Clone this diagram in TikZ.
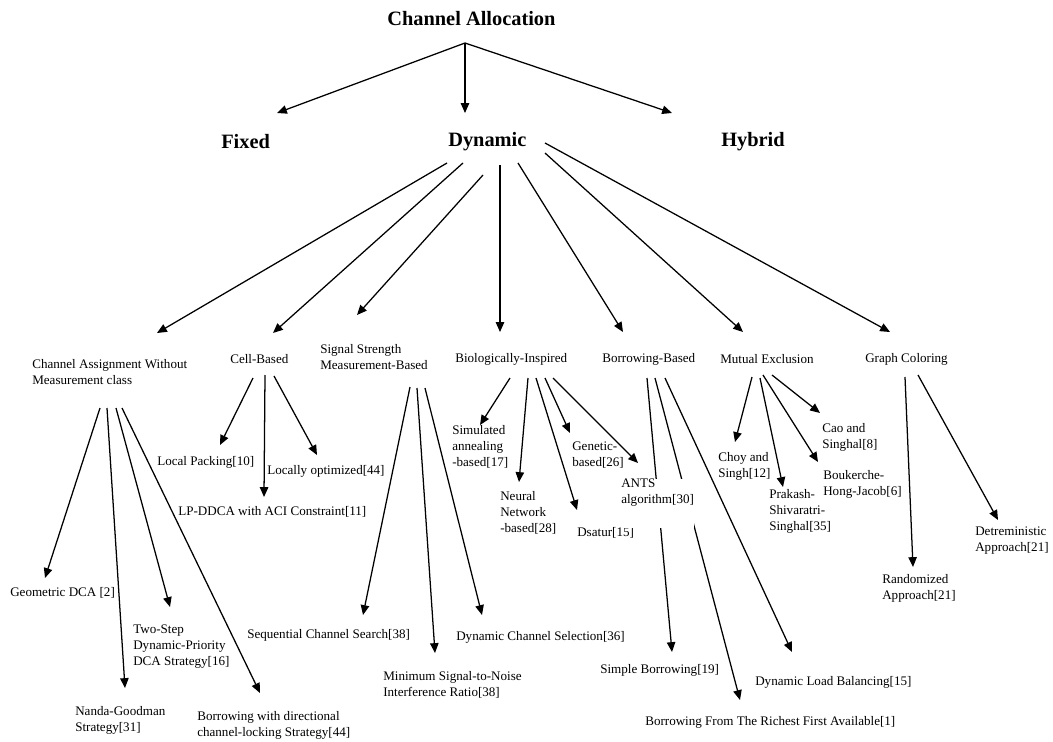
\documentclass[tikz,border=0pt]{standalone}
\usepackage{fontspec}
\setmainfont{Liberation Serif}
\usetikzlibrary{arrows.meta,calc,backgrounds}

\begin{document}
\begin{tikzpicture}[x=0.025cm,y=-0.025cm,
  toplabel/.style={font=\fontsize{14.5}{17}\selectfont\bfseries, inner sep=0pt, anchor=west},
  item/.style={font=\fontsize{9.3}{11.4}\selectfont, inner sep=0pt, align=left, anchor=west},
  link/.style={line width=0.9pt, -{Triangle[length=7pt,width=6pt]}}]
\useasboundingbox (0,0) rectangle (1053,742);
% top
\node[toplabel] (ca) at (387,19) {Channel Allocation};
\node[toplabel] (fixed) at (221,142) {Fixed};
\node[toplabel] (dyn) at (448,142) {Dynamic};
\node[toplabel] (hyb) at (721,142) {Hybrid};
% Dynamic classes
\node[item] (cab) at (32,372) {Channel Assignment Without\\ Measurement class};
\node[item] (cell) at (230,359) {Cell-Based};
\node[item] (sig) at (320,357) {Signal Strength\\Measurement-Based};
\node[item] (bio) at (455,359) {Biologically-Inspired};
\node[item] (borr) at (602,359) {Borrowing-Based};
\node[item] (mut) at (720,359) {Mutual Exclusion};
\node[item] (graph) at (865,359) {Graph Coloring};
% without measurement
\node[item] (geo) at (10,593) {Geometric DCA [2]};
\node[item] (nanda) at (75,720) {Nanda-Goodman\\ Strategy[31]};
\node[item] (twostep) at (133,647) {Two-Step\\Dynamic-Priority\\ DCA Strategy[16]};
\node[item] (borrdir) at (197,725) {Borrowing with directional\\channel-locking Strategy[44]};
% cell-based
\node[item] (lp) at (157,462) {Local Packing[10]};
\node[item] (lpd) at (178,512) {LP-DDCA with ACI Constraint[11]};
\node[item] (lo) at (267,471) {Locally optimized[44]};
% signal strength
\node[item] (seq) at (247,635) {Sequential Channel Search[38]};
\node[item] (minsnr) at (383,685) {Minimum Signal-to-Noise\\ Interference Ratio[38]};
\node[item] (dcs) at (456,637) {Dynamic Channel Selection[36]};
% bio
\node[item] (sa) at (452,447) {Simulated\\ annealing\\-based[17]};
\node[item] (nn) at (500,513) {Neural\\Network\\-based[28]};
\node[item] (dsatur) at (577,533) {Dsatur[15]};
\node[item] (gen) at (572,455) {Genetic-\\based[26]};
\node[item, fill=white, anchor=north west, text depth=0.6cm] (ants) at (621,479) {ANTS\\algorithm[30]};
% borrowing
\node[item] (sb) at (600,670) {Simple Borrowing[19]};
\node[item] (rich) at (645,722) {Borrowing From The Richest First Available[1]};
\node[item] (dlb) at (755,682) {Dynamic Load Balancing[15]};
% mutual exclusion
\node[item] (choy) at (718,466) {Choy and\\Singh[12]};
\node[item] (prak) at (769,511) {Prakash-\\Shivaratri-\\Singhal[35]};
\node[item] (bouk) at (823,484) {Boukerche-\\Hong-Jacob[6]};
\node[item] (cao) at (822,437) {Cao and\\Singhal[8]};
% graph coloring
\node[item] (rand) at (882,588) {Randomized\\Approach[21]};
\node[item] (det) at (975,541) {Detreministic\\Approach[21]};

\begin{scope}[on background layer]
\draw[link] ($(ca.west)+(78,24)$) -- ($(fixed.west)+(56,-29)$);
\draw[link] ($(ca.west)+(78,24)$) -- ($(dyn.west)+(17,-29)$);
\draw[link] ($(ca.west)+(78,24)$) -- ($(hyb.west)+(-49,-29)$);
% Dynamic
\draw[link] ($(dyn.west)+(-1,21)$) -- ($(cab.west)+(125,-39)$);
\draw[link] ($(dyn.west)+(15,21)$) -- ($(cell.west)+(43,-26)$);
\draw[link] ($(dyn.west)+(35,33)$) -- ($(sig.west)+(37,-42)$);
\draw[link] ($(dyn.west)+(52,23)$) -- ($(bio.west)+(45,-27)$);
\draw[link] ($(dyn.west)+(70,21)$) -- ($(borr.west)+(21,-27)$);
\draw[link] ($(dyn.west)+(97,11)$) -- ($(mut.west)+(23,-27)$);
\draw[link] ($(dyn.west)+(97,1)$) -- ($(graph.west)+(25,-27)$);
% without measurement
\draw[link] ($(cab.west)+(68,36)$) -- ($(geo.west)+(35,-15)$);
\draw[link] ($(cab.west)+(75,36)$) -- ($(nanda.west)+(50,-32)$);
\draw[link] ($(cab.west)+(84,36)$) -- ($(twostep.west)+(37,-40)$);
\draw[link] ($(cab.west)+(90,36)$) -- ($(borrdir.west)+(63,-32)$);
% cell-based
\draw[link] ($(cell.west)+(23,19)$) -- ($(lp.west)+(63,-17)$);
\draw[link] ($(cell.west)+(35,16)$) -- ($(lpd.west)+(86,-15)$);
\draw[link] ($(cell.west)+(44,17)$) -- ($(lo.west)+(50,-16)$);
% signal strength
\draw[link] ($(sig.west)+(90,30)$) -- ($(seq.west)+(116,-20)$);
\draw[link] ($(sig.west)+(97,31)$) -- ($(minsnr.west)+(52,-32)$);
\draw[link] ($(sig.west)+(105,31)$) -- ($(dcs.west)+(26,-22)$);
% bio
\draw[link] ($(bio.west)+(55,19)$) -- ($(sa.west)+(28,-22)$);
\draw[link] ($(bio.west)+(73,19)$) -- ($(nn.west)+(19,-31)$);
\draw[link] ($(bio.west)+(81,19)$) -- ($(dsatur.west)+(0,-23)$);
\draw[link] ($(bio.west)+(90,19)$) -- ($(gen.west)+(-2,-22)$);
\draw[link] ($(bio.west)+(98,19)$) -- ($(ants.north west)+(17,-16)$);
% borrowing
\draw[link] ($(borr.west)+(45,19)$) -- ($(sb.west)+(72,-18)$);
\draw[link] ($(borr.west)+(53,19)$) -- ($(rich.west)+(95,-22)$);
\draw[link] ($(borr.west)+(63,19)$) -- ($(dlb.west)+(37,-30)$);
% mutual exclusion
\draw[link] ($(mut.west)+(32,18)$) -- ($(choy.west)+(17,-24)$);
\draw[link] ($(mut.west)+(40,19)$) -- ($(prak.west)+(14,-24)$);
\draw[link] ($(mut.west)+(43,16)$) -- ($(bouk.west)+(-5,-22)$);
\draw[link] ($(mut.west)+(52,16)$) -- ($(cao.west)+(-2,-24)$);
% graph coloring
\draw[link] ($(graph.west)+(40,18)$) -- ($(rand.west)+(31,-21)$);
\draw[link] ($(graph.west)+(53,16)$) -- ($(det.west)+(23,-21)$);
\end{scope}
\end{tikzpicture}
\end{document}
